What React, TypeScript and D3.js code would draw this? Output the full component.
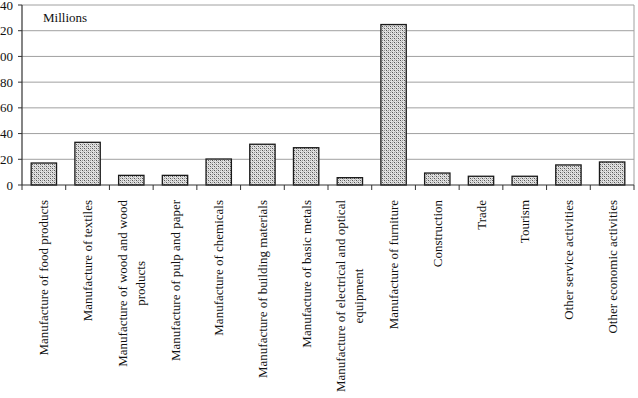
import React from "react";
import * as d3 from "d3";

// chart data
const categories: string[][] = [
  ["Manufacture of food products"],
  ["Manufacture of textiles"],
  ["Manufacture of wood and wood", "products"],
  ["Manufacture of pulp and paper"],
  ["Manufacture of chemicals"],
  ["Manufacture of building materials"],
  ["Manufacture of basic metals"],
  ["Manufacture of electrical and optical", "equipment"],
  ["Manufacture of furniture"],
  ["Construction"],
  ["Trade"],
  ["Tourism"],
  ["Other service activities"],
  ["Other economic activities"],
];
const values = [17.1, 33.2, 7.5, 7.5, 20.2, 31.7, 29, 5.7, 124.8, 9.3, 6.8, 6.8, 15.6, 17.9];
const yTicks = [0, 20, 40, 60, 80, 100, 120, 140];
const unitLabel = "Millions";

const W = 638;
const H = 398;
const margin = { top: 5, right: 4, bottom: 213, left: 22 };
const font = "'Liberation Serif', 'Times New Roman', serif";
const fontSize = 13;

// measure text width for centering wrapped label lines
let ctx: CanvasRenderingContext2D | null = null;
const measure = (s: string) => {
  if (!ctx) ctx = document.createElement("canvas").getContext("2d");
  if (!ctx) return s.length * fontSize * 0.42;
  ctx.font = `${fontSize}px ${font}`;
  return ctx.measureText(s).width;
};

const App = () => {
  const x = d3
    .scaleBand<number>()
    .domain(d3.range(values.length))
    .range([margin.left, W - margin.right])
    .paddingInner(0.42)
    .paddingOuter(0.21);
  const y = d3.scaleLinear().domain([0, 140]).range([H - margin.bottom, margin.top]);
  const step = x.step();
  const x0 = margin.left;
  const x1 = W - margin.right;
  const yBase = y(0);

  return (
    <div style={{ position: "fixed", left: 0, top: 0 }}>
      <svg width={W} height={H} style={{ display: "block", background: "#fff" }}>
        <defs>
          <pattern id="dots" width={4} height={4} patternUnits="userSpaceOnUse">
            <rect width={4} height={4} fill="#e2e2e2" />
            <rect x={0} y={0} width={1} height={1} fill="#555" />
            <rect x={2} y={2} width={1} height={1} fill="#555" />
            <rect x={2} y={0} width={1} height={1} fill="#999" />
            <rect x={0} y={2} width={1} height={1} fill="#999" />
            <rect x={1} y={1} width={1} height={1} fill="#bbb" />
            <rect x={3} y={3} width={1} height={1} fill="#bbb" />
          </pattern>
        </defs>

        {/* gridlines */}
        {yTicks.slice(1).map((t) => (
          <line key={t} x1={x0} x2={x1} y1={y(t)} y2={y(t)} stroke="#a0a0a0" strokeWidth={1} />
        ))}
        <line x1={x1} x2={x1} y1={y(140)} y2={yBase} stroke="#a0a0a0" strokeWidth={1} />

        {/* bars */}
        {values.map((v, i) => (
          <rect
            key={i}
            x={x(i)}
            y={y(v)}
            width={x.bandwidth()}
            height={yBase - y(v)}
            fill="url(#dots)"
            stroke="#1a1a1a"
            strokeWidth={1.3}
          />
        ))}

        {/* axes */}
        <line x1={x0} x2={x0} y1={y(140)} y2={yBase} stroke="#333" strokeWidth={1.2} />
        <line x1={x0} x2={x1} y1={yBase} y2={yBase} stroke="#333" strokeWidth={1.2} />
        {yTicks.map((t) => (
          <g key={t}>
            <line x1={x0 - 4} x2={x0} y1={y(t)} y2={y(t)} stroke="#333" />
            <text
              x={13}
              y={y(t)}
              dy="0.35em"
              textAnchor="end"
              fontFamily={font}
              fontSize={fontSize}
              fill="#111"
            >
              {t}
            </text>
          </g>
        ))}
        {d3.range(values.length + 1).map((i) => (
          <line
            key={i}
            x1={x0 + i * step}
            x2={x0 + i * step}
            y1={yBase}
            y2={yBase + 5}
            stroke="#333"
          />
        ))}

        {/* category labels, rotated, wrapped lines centred on each other */}
        {categories.map((lines, i) => {
          const cx = (x(i) ?? 0) + x.bandwidth() / 2;
          const lh = 18;
          const maxW = d3.max(lines, measure) ?? 0;
          return (
            <text
              key={i}
              transform={`translate(${cx},${yBase + 15}) rotate(-90)`}
              fontFamily={font}
              fontSize={fontSize}
              fill="#111"
              textAnchor="middle"
            >
              {lines.map((l, j) => (
                <tspan key={j} x={-maxW / 2} y={(j - (lines.length - 1) / 2) * lh} dy="0.35em">
                  {l}
                </tspan>
              ))}
            </text>
          );
        })}

        <text x={43} y={22} fontFamily={font} fontSize={fontSize} fill="#111">
          {unitLabel}
        </text>
      </svg>
    </div>
  );
};

export default App;
